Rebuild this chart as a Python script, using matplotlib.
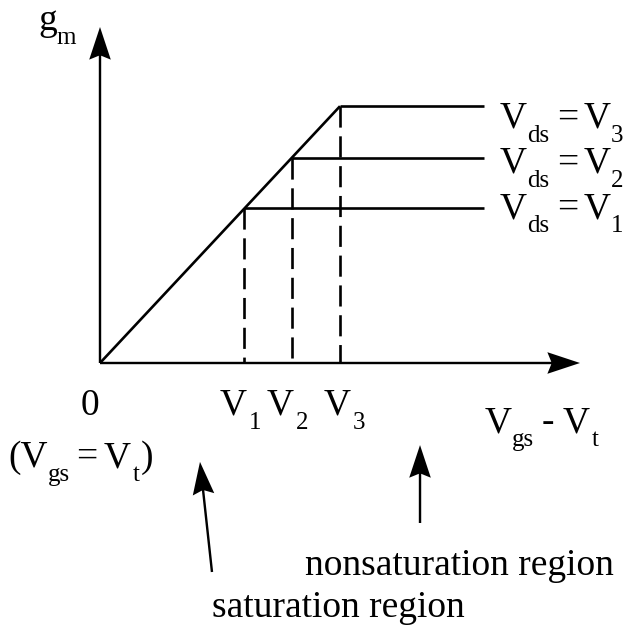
import matplotlib
matplotlib.use('Agg')
from matplotlib import pyplot as plt
from matplotlib.transforms import Affine2D

plt.rcParams['font.family'] = ['Liberation Serif', 'DejaVu Serif']

# knee points of each g_m curve (x in units of Vgs - Vt)
v_knee = [3.0, 4.0, 5.0]
gm_sat = [3.22, 4.28, 5.35]
knee_names = ['1', '2', '3']
x_end = 8.0          # where the flat parts stop
x_axis_len = 10.0
y_axis_len = 7.0

FS = 27      # main text size
SUB = 18     # subscript size
DROP = 14    # subscript drop, px
LW = 1.9

fig = plt.figure(figsize=(6.26, 6.26), dpi=100)
ax = fig.add_axes([0, 0, 1, 1])
ax.set_xlim(-100 / 48, 526 / 48)
ax.set_ylim(-263 / 48, 363 / 48)
ax.set_aspect('equal')
ax.axis('off')
renderer = fig.canvas.get_renderer()


def rich(x, y, pieces, ha='left'):
    # pieces: (text, is_subscript, gap_before_px)
    placed = []
    cur = 0.0
    for s, sub, gap in pieces:
        cur += gap
        t = ax.text(x, y, s, fontsize=SUB if sub else FS, ha='left', va='baseline')
        placed.append((t, cur, -DROP if sub else 0))
        cur += t.get_window_extent(renderer).width
    shift = {'left': 0, 'center': -cur / 2, 'right': -cur}[ha]
    for t, ox, oy in placed:
        t.set_transform(ax.transData + Affine2D().translate(ox + shift, oy))


def arrow(x0, y0, x1, y1):
    ax.arrow(x0, y0, x1 - x0, y1 - y0, width=0.05, head_width=0.45,
             head_length=0.68, overhang=0.12, length_includes_head=True,
             fc='k', ec='none', zorder=3)


# axes
arrow(0, 0, x_axis_len, 0)
arrow(0, 0, 0, y_axis_len)

# linear rise up to the largest knee
ax.plot([0, v_knee[-1]], [0, gm_sat[-1]], color='k', lw=LW, solid_capstyle='butt')

label_y = [3.02, 3.96, 4.9]
label_dx = [-0.07, -0.1, 0.1]
for v, g, n, ly, dx in zip(v_knee, gm_sat, knee_names, label_y, label_dx):
    ax.plot([v, x_end], [g, g], color='k', lw=LW, solid_capstyle='butt')
    ax.plot([v, v], [g, 0], color='k', lw=LW, dashes=(8, 3.3))
    rich(8.33, ly, [('V', False, 0), ('ds', True, 0), ('=', False, 8),
                    ('V', False, 5), (n, True, 1)])
    rich(v + dx, -1.083, [('V', False, 0), (n, True, 2)], ha='center')

rich(-1.29, 6.94, [('g', False, 0), ('m', True, 0)])
ax.text(-0.2, -1.083, '0', fontsize=FS, ha='center', va='baseline')
rich(-1.917, -2.17, [('(V', False, 0), ('gs', True, 0), ('=', False, 7),
                     ('V', False, 6), ('t', True, 2), (')', False, 1)])
rich(8.02, -1.44, [('V', False, 0), ('gs', True, 0), ('-', False, 8),
                   ('V', False, 8), ('t', True, 2)])

# region pointers
arrow(2.333, -4.354, 2.083, -2.06)
arrow(6.667, -3.333, 6.667, -1.71)
ax.text(4.27, -4.42, 'nonsaturation region', fontsize=FS, ha='left', va='baseline')
ax.text(2.333, -5.29, 'saturation region', fontsize=FS, ha='left', va='baseline')

fig.savefig('out.png', dpi=100)
